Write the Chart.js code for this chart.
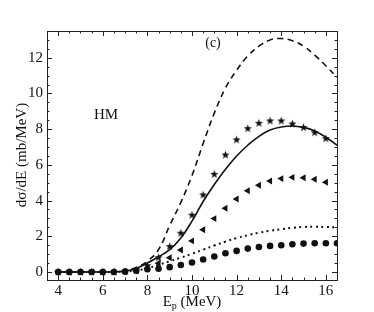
<!DOCTYPE html>
<html>
<head>
<meta charset="utf-8">
<script src="https://cdn.jsdelivr.net/npm/chart.js@4.4.1/dist/chart.umd.min.js"></script>
<style>
  html, body { margin: 0; padding: 0; background: #fff; }
  #wrap { width: 374px; height: 312px; }
</style>
</head>
<body>
<div id="wrap"><canvas id="xsChart" width="374" height="312"></canvas></div>
<script>
// proton energy grid (MeV)
const energies = [4, 4.5, 5, 5.5, 6, 6.5, 7, 7.5, 8, 8.5, 9, 9.5, 10, 10.5, 11, 11.5, 12, 12.5, 13, 13.5, 14, 14.5, 15, 15.5, 16, 16.5];

// curves
const dashedCurve = [0, 0, 0, 0, 0, 0, 0.05, 0.25, 0.6, 1.25, 2.6, 3.9, 5.4, 7.2, 8.9, 10.3, 11.3, 12.1, 12.65, 13.0, 13.08, 12.95, 12.65, 12.15, 11.55, 10.9];
const solidCurve = [0, 0, 0, 0, 0, 0, 0.05, 0.2, 0.5, 0.85, 1.25, 1.9, 2.85, 3.95, 4.9, 5.75, 6.5, 7.1, 7.6, 7.95, 8.12, 8.18, 8.1, 7.9, 7.55, 7.1];
const dottedCurve = [0, 0, 0, 0, 0, 0, 0.02, 0.08, 0.2, 0.4, 0.6, 0.8, 1.02, 1.25, 1.48, 1.7, 1.9, 2.06, 2.2, 2.31, 2.4, 2.47, 2.52, 2.53, 2.52, 2.5];

// markers
const starPts = [0, 0, 0, 0, 0, 0, 0.02, 0.1, 0.35, 0.8, 1.42, 2.17, 3.18, 4.31, 5.47, 6.55, 7.4, 8.03, 8.33, 8.46, 8.46, 8.29, 8.09, 7.8, 7.47];
const trianglePts = [0, 0, 0, 0, 0, 0, 0.01, 0.05, 0.2, 0.49, 0.8, 1.23, 1.74, 2.37, 2.99, 3.57, 4.09, 4.55, 4.86, 5.1, 5.23, 5.3, 5.28, 5.19, 5.03];
const circlePts = [0, 0, 0, 0, 0, 0, 0.02, 0.07, 0.15, 0.18, 0.27, 0.39, 0.53, 0.7, 0.87, 1.05, 1.18, 1.31, 1.4, 1.46, 1.5, 1.55, 1.59, 1.61, 1.61, 1.61];

// tick labels
const xTicks = [4, 6, 8, 10, 12, 14, 16];
const yTicks = [0, 2, 4, 6, 8, 10, 12];

const FONT = '"Liberation Serif", "DejaVu Serif", serif';

function pts(ys) {
  return ys.map((y, i) => ({ x: energies[i], y: y }));
}

// filled star marker
function makeStar(r) {
  const c = document.createElement('canvas');
  const s = Math.ceil(r * 2 + 2);
  c.width = s; c.height = s;
  const g = c.getContext('2d');
  g.fillStyle = '#111';
  g.beginPath();
  for (let k = 0; k < 10; k++) {
    const rad = k % 2 === 0 ? r : r * 0.42;
    const a = -Math.PI / 2 + k * Math.PI / 5;
    const px = s / 2 + rad * Math.cos(a);
    const py = s / 2 + rad * Math.sin(a);
    if (k === 0) g.moveTo(px, py); else g.lineTo(px, py);
  }
  g.closePath();
  g.fill();
  return c;
}
const starImg = makeStar(4.3);

const frame = {
  id: 'frame',
  afterDraw(chart) {
    const ctx = chart.ctx;
    const a = chart.chartArea;
    const xs = chart.scales.x, ys = chart.scales.y;
    ctx.save();
    ctx.strokeStyle = '#222';
    ctx.lineWidth = 1;
    ctx.strokeRect(a.left + 0.5, a.top + 0.5, a.right - a.left, a.bottom - a.top);
    ctx.beginPath();
    for (let v = 4; v <= 16.5; v += 0.5) {
      const px = Math.round(xs.getPixelForValue(v)) + 0.5;
      const len = (v % 2 === 0) ? 5 : 2.5;
      ctx.moveTo(px, a.bottom); ctx.lineTo(px, a.bottom - len);
      ctx.moveTo(px, a.top); ctx.lineTo(px, a.top + len);
    }
    for (let v = 0; v <= 13.5; v += 0.5) {
      const py = Math.round(ys.getPixelForValue(v)) + 0.5;
      const len = (v % 2 === 0) ? 5 : 2.5;
      ctx.moveTo(a.left, py); ctx.lineTo(a.left + len, py);
      ctx.moveTo(a.right, py); ctx.lineTo(a.right - len, py);
    }
    ctx.stroke();

    ctx.fillStyle = '#111';
    ctx.textAlign = 'center';
    ctx.textBaseline = 'middle';
    ctx.font = '15px ' + FONT;
    ctx.fillText('HM', 106, 115);
    ctx.font = '14px ' + FONT;
    ctx.fillText('(c)', 213, 43);

    // x title: E_p (MeV)
    ctx.font = '15px ' + FONT;
    const main1 = 'E', sub = 'p', rest = ' (MeV)';
    const w1 = ctx.measureText(main1).width;
    const w3 = ctx.measureText(rest).width;
    ctx.font = '10px ' + FONT;
    const w2 = ctx.measureText(sub).width;
    let x0 = 192 - (w1 + w2 + w3) / 2;
    ctx.textAlign = 'left';
    ctx.font = '15px ' + FONT;
    ctx.fillText(main1, x0, 302);
    ctx.font = '10px ' + FONT;
    ctx.fillText(sub, x0 + w1, 306);
    ctx.font = '15px ' + FONT;
    ctx.fillText(rest, x0 + w1 + w2, 302);

    // y title
    ctx.translate(22, 155);
    ctx.rotate(-Math.PI / 2);
    ctx.textAlign = 'center';
    ctx.font = '15px ' + FONT;
    ctx.fillText('d\u03C3/dE (mb/MeV)', 0, 0);
    ctx.restore();
  }
};

const ctx = document.getElementById('xsChart').getContext('2d');
const xsChart = new Chart(ctx, {
  type: 'scatter',
  data: {
    datasets: [
      {
        label: 'dashed',
        data: pts(dashedCurve),
        showLine: true,
        borderColor: '#111',
        borderWidth: 1.6,
        borderDash: [6, 4.5],
        pointRadius: 0,
        tension: 0.4
      },
      {
        label: 'solid',
        data: pts(solidCurve),
        showLine: true,
        borderColor: '#111',
        borderWidth: 1.6,
        pointRadius: 0,
        tension: 0.4
      },
      {
        label: 'dotted',
        data: pts(dottedCurve),
        showLine: true,
        borderColor: '#111',
        borderWidth: 2,
        borderDash: [2, 3.5],
        pointRadius: 0,
        tension: 0.4
      },
      {
        label: 'stars',
        data: pts(starPts),
        pointStyle: starImg,
        pointRadius: 4
      },
      {
        label: 'triangles',
        data: pts(trianglePts),
        pointStyle: 'triangle',
        rotation: -90,
        pointRadius: 4,
        backgroundColor: '#111',
        borderColor: '#111',
        borderWidth: 0
      },
      {
        label: 'circles',
        data: pts(circlePts),
        pointStyle: 'circle',
        pointRadius: 3.3,
        backgroundColor: '#111',
        borderColor: '#111',
        borderWidth: 0
      }
    ]
  },
  options: {
    responsive: false,
    animation: false,
    layout: { padding: { top: 31, right: 37, left: 0, bottom: 0 } },
    plugins: { legend: { display: false }, tooltip: { enabled: false } },
    scales: {
      x: {
        type: 'linear',
        min: 3.5,
        max: 16.5,
        grid: { display: false, drawTicks: false },
        border: { display: false },
        afterBuildTicks: s => { s.ticks = xTicks.map(v => ({ value: v })); },
        afterFit: s => { s.height = 32; },
        ticks: {
          color: '#111',
          padding: 2,
          maxRotation: 0,
          autoSkip: false,
          font: { family: FONT, size: 15 }
        }
      },
      y: {
        type: 'linear',
        min: -0.45,
        max: 13.5,
        grid: { display: false, drawTicks: false },
        border: { display: false },
        afterBuildTicks: s => { s.ticks = yTicks.map(v => ({ value: v })); },
        afterFit: s => { s.width = 47; },
        ticks: {
          color: '#111',
          padding: 4,
          autoSkip: false,
          font: { family: FONT, size: 15 }
        }
      }
    }
  },
  plugins: [frame]
});
</script>
</body>
</html>
